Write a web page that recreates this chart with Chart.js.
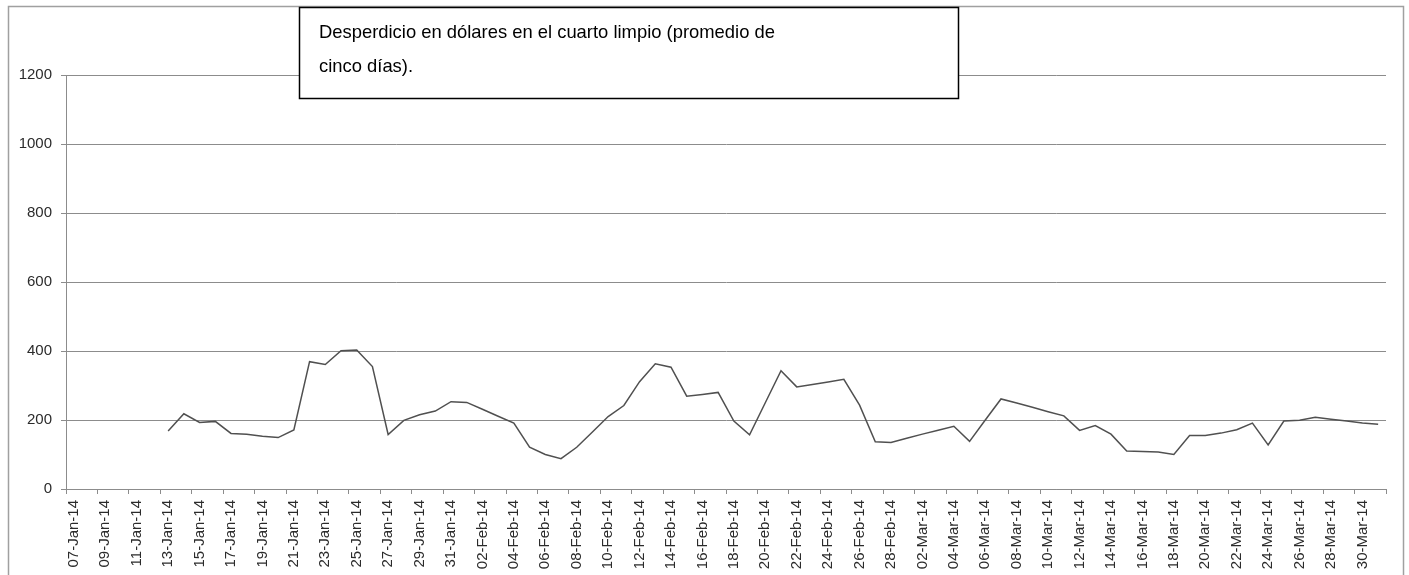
<!DOCTYPE html>
<html>
<head>
<meta charset="utf-8">
<script src="https://cdn.jsdelivr.net/npm/chart.js@4"></script>
<style>
  body { margin: 0; background: #fff; }
</style>
</head>
<body>
<canvas id="chart" width="1409" height="575"></canvas>
<script>
// dias (categorias del eje x)
const fechas = [
    '07-Jan-14', '08-Jan-14', '09-Jan-14', '10-Jan-14', '11-Jan-14', '12-Jan-14', '13-Jan-14',
    '14-Jan-14', '15-Jan-14', '16-Jan-14', '17-Jan-14', '18-Jan-14', '19-Jan-14', '20-Jan-14',
    '21-Jan-14', '22-Jan-14', '23-Jan-14', '24-Jan-14', '25-Jan-14', '26-Jan-14', '27-Jan-14',
    '28-Jan-14', '29-Jan-14', '30-Jan-14', '31-Jan-14', '01-Feb-14', '02-Feb-14', '03-Feb-14',
    '04-Feb-14', '05-Feb-14', '06-Feb-14', '07-Feb-14', '08-Feb-14', '09-Feb-14', '10-Feb-14',
    '11-Feb-14', '12-Feb-14', '13-Feb-14', '14-Feb-14', '15-Feb-14', '16-Feb-14', '17-Feb-14',
    '18-Feb-14', '19-Feb-14', '20-Feb-14', '21-Feb-14', '22-Feb-14', '23-Feb-14', '24-Feb-14',
    '25-Feb-14', '26-Feb-14', '27-Feb-14', '28-Feb-14', '01-Mar-14', '02-Mar-14', '03-Mar-14',
    '04-Mar-14', '05-Mar-14', '06-Mar-14', '07-Mar-14', '08-Mar-14', '09-Mar-14', '10-Mar-14',
    '11-Mar-14', '12-Mar-14', '13-Mar-14', '14-Mar-14', '15-Mar-14', '16-Mar-14', '17-Mar-14',
    '18-Mar-14', '19-Mar-14', '20-Mar-14', '21-Mar-14', '22-Mar-14', '23-Mar-14', '24-Mar-14',
    '25-Mar-14', '26-Mar-14', '27-Mar-14', '28-Mar-14', '29-Mar-14', '30-Mar-14', '31-Mar-14'
];
// desperdicio en dolares (promedio de cinco dias)
const desperdicio = [
    null, null, null, null, null, null, 168,
    218, 193, 196, 161, 159, 153, 149,
    171, 369, 361, 401, 403, 355, 158,
    199, 215, 226, 253, 251, 231, 211,
    191, 121, 100, 88, 121, 165, 210,
    242, 311, 363, 353, 269, 274, 280,
    197, 157, 250, 343, 296, 303, 310,
    318, 243, 137, 135, 147, 159, 170,
    182, 138, 200, 261, 249, 237, 224,
    212, 170, 184, 159, 110, 109, 107,
    100, 155, 155, 162, 172, 191, 128,
    197, 199, 208, 202, 197, 191, 188
];
const yTicks = [0, 200, 400, 600, 800, 1000, 1200];
const titulo = ['Desperdicio en dólares en el cuarto limpio (promedio de', 'cinco días).'];

const gris = '#8c8c8c';
const fuente = 'Liberation Sans';

//marco exterior
const marco = {
    id: 'marco',
    beforeDraw(chart) {
        const { ctx } = chart;
        ctx.save();
        ctx.fillStyle = '#fff';
        ctx.fillRect(0, 0, chart.width, chart.height);
        ctx.strokeStyle = '#a0a0a0';
        ctx.lineWidth = 1.5;
        ctx.strokeRect(8.5, 6.5, 1395, 620);
        ctx.restore();
    }
}
//caja del titulo
const cajaTitulo = {
    id: 'cajaTitulo',
    afterDraw(chart) {
        const { ctx } = chart;
        ctx.save();
        ctx.fillStyle = '#fff';
        ctx.fillRect(299, 7, 659, 92);
        ctx.strokeStyle = '#000';
        ctx.lineWidth = 1.5;
        ctx.strokeRect(299.5, 7.5, 659, 91);
        ctx.fillStyle = '#000';
        ctx.font = '18.4px "' + fuente + '"';
        ctx.textAlign = 'left';
        ctx.textBaseline = 'alphabetic';
        ctx.fillText(titulo[0], 319, 38);
        ctx.fillText(titulo[1], 319, 72);
        ctx.restore();
    }
}

const data = {
    labels: fechas,
    datasets: [{
        data: desperdicio,
        borderColor: '#505050',
        borderWidth: 1.5,
        pointRadius: 0,
        tension: 0,
        fill: false
    }]
}

const config = {
    type: 'line',
    data,
    options: {
        responsive: false,
        animation: false,
        layout: {
            padding: { top: 75, right: 23, bottom: 0, left: 0 }
        },
        plugins: {
            legend: { display: false },
            tooltip: { enabled: false }
        },
        scales: {
            x: {
                offset: true,
                afterFit(scale) { scale.height = 86; },
                grid: {
                    offset: true,
                    drawOnChartArea: false,
                    drawTicks: true,
                    tickLength: 5,
                    color: (c) => (c.index === undefined || c.index % 2 === 0) ? gris : 'rgba(0,0,0,0)'
                },
                border: { color: gris, width: 1 },
                ticks: {
                    autoSkip: false,
                    maxRotation: 90,
                    minRotation: 90,
                    padding: 6,
                    color: '#2b2b2b',
                    font: { family: fuente, size: 15 },
                    callback: function (val, i) {
                        return i % 2 === 0 ? this.getLabelForValue(val) : '';
                    }
                }
            },
            y: {
                min: 0,
                max: 1200,
                afterFit(scale) { scale.width = 66; },
                afterBuildTicks(scale) { scale.ticks = yTicks.map(v => ({ value: v })); },
                grid: {
                    color: gris,
                    drawTicks: true,
                    tickLength: 5
                },
                border: { color: gris, width: 1 },
                ticks: {
                    padding: 9,
                    color: '#2b2b2b',
                    font: { family: fuente, size: 15 },
                    callback: (v) => String(v)
                }
            }
        }
    },
    plugins: [marco, cajaTitulo]
}
var chart = document.getElementById('chart');
var myChart = new Chart(chart, config);
</script>
</body>
</html>
